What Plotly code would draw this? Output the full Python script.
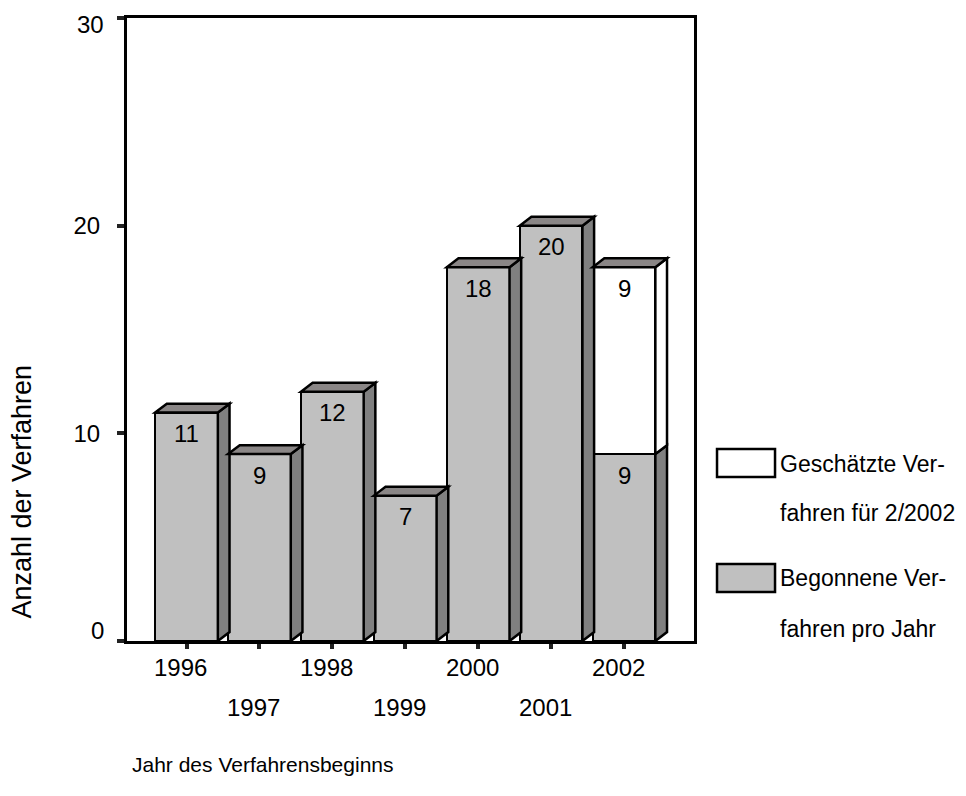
import plotly.graph_objects as go

years = ["1996", "1997", "1998", "1999", "2000", "2001", "2002"]
begonnen = [11, 9, 12, 7, 18, 20, 9]
geschaetzt = [0, 0, 0, 0, 0, 0, 9]
y_ticks = [0, 10, 20, 30]
legend_labels = [["Geschätzte Ver-", "fahren für 2/2002"], ["Begonnene Ver-", "fahren pro Jahr"]]

FONT = "Arial, Liberation Sans, Helvetica, sans-serif"
FRONT = "#c0c0c0"
SIDE = "#808080"
TOP = "#8a8686"
WHITE = "#ffffff"
BW = 0.86      # bar width (category units)
DX = 0.16      # 3D depth in x (category units)
DY = 0.43      # 3D depth in y (value units)
LW = 2.5
FS = 24

xs = list(range(len(years)))

fig = go.Figure()
fig.add_trace(go.Bar(x=xs, y=begonnen, width=BW, marker=dict(color=FRONT, line=dict(color="black", width=LW)),
                     name="Begonnene Verfahren pro Jahr", showlegend=False, hoverinfo="skip"))
fig.add_trace(go.Bar(x=xs, y=geschaetzt, width=BW, marker=dict(color=WHITE, line=dict(color="black", width=LW)),
                     name="Geschätzte Verfahren für 2/2002", showlegend=False, hoverinfo="skip"))

shapes = []
annotations = []

def poly(pts, fill):
    path = "M " + " L ".join(f"{px},{py}" for px, py in pts) + " Z"
    return dict(type="path", xref="x", yref="y", path=path, fillcolor=fill,
                line=dict(color="black", width=LW), layer="above")

for i, (b, g) in enumerate(zip(begonnen, geschaetzt)):
    xl = i - BW / 2
    xr = i + BW / 2
    segs = [(0, b, SIDE)]
    if g > 0:
        segs.append((b, b + g, WHITE))
    for y0, y1, col in segs:
        shapes.append(poly([(xr, y0), (xr + DX, y0 + DY), (xr + DX, y1 + DY), (xr, y1)], col))
    top = b + g
    shapes.append(poly([(xl, top), (xl + DX, top + DY), (xr + DX, top + DY), (xr, top)], TOP))
    annotations.append(dict(x=i, y=b, xref="x", yref="y", text=str(b), showarrow=False,
                            yshift=-21, font=dict(family=FONT, size=FS, color="black")))
    if g > 0:
        annotations.append(dict(x=i, y=top, xref="x", yref="y", text=str(g), showarrow=False,
                                yshift=-21, font=dict(family=FONT, size=FS, color="black")))
    annotations.append(dict(x=i, y=0, xref="x", yref="paper", text=years[i], showarrow=False,
                            yanchor="middle", yshift=-26 if i % 2 == 0 else -66, xshift=-6,
                            font=dict(family=FONT, size=FS, color="black")))

# the end labels "0" and "30" sit slightly inward in the original
for v, sh in ((y_ticks[0], 11), (y_ticks[-1], -6)):
    annotations.append(dict(x=0, y=v, xref="paper", yref="y", text=str(v), showarrow=False,
                            xanchor="right", yanchor="middle", xshift=-21, yshift=sh,
                            font=dict(family=FONT, size=FS, color="black")))

annotations.append(dict(x=-0.185, y=0.24, xref="paper", yref="paper", text="Anzahl der Verfahren",
                        textangle=-90, showarrow=False, xanchor="center", yanchor="middle",
                        font=dict(family=FONT, size=27, color="black")))
annotations.append(dict(x=0.005, y=-0.199, xref="paper", yref="paper", text="Jahr des Verfahrensbeginns",
                        showarrow=False, xanchor="left", yanchor="middle",
                        font=dict(family=FONT, size=21, color="black")))

leg_boxes = [(0.3082, 0.2632, WHITE), (0.1236, 0.0787, FRONT)]
leg_text_y = [(0.2841, 0.2055), (0.1011, 0.0193)]
for (y1, y0, col), (ty1, ty2), labels in zip(leg_boxes, leg_text_y, legend_labels):
    shapes.append(dict(type="rect", xref="paper", yref="paper", x0=1.0406, x1=1.1429, y0=y0, y1=y1,
                       fillcolor=col, line=dict(color="black", width=LW)))
    for ty, lab in zip((ty1, ty2), labels):
        annotations.append(dict(x=1.148, y=ty, xref="paper", yref="paper", text=lab, showarrow=False,
                                xanchor="left", yanchor="middle",
                                font=dict(family=FONT, size=23, color="black")))

fig.update_layout(
    width=950, height=780,
    margin=dict(l=119, r=264, t=10, b=147, autoexpand=False),
    paper_bgcolor="white", plot_bgcolor="white",
    barmode="stack", bargap=0,
    shapes=shapes, annotations=annotations,
    showlegend=False,
    font=dict(family=FONT, size=FS, color="black"),
    xaxis=dict(range=[-0.816, 6.96], tickvals=xs, ticktext=[""] * len(xs), ticks="outside",
               ticklen=5, tickwidth=4, tickcolor="#222", showline=True, linecolor="black",
               linewidth=3, mirror=True, showgrid=False, zeroline=False, fixedrange=True,
               automargin=False),
    yaxis=dict(range=[0, 30], tickvals=y_ticks,
               ticktext=[""] + [str(v) for v in y_ticks[1:-1]] + [""],
               ticks="outside", ticklen=7, tickwidth=4,
               tickcolor="#222", showline=True, linecolor="black", linewidth=3, mirror=True,
               showgrid=False, zeroline=False, ticklabelstandoff=12, ticklabeloverflow="allow",
               automargin=False, tickfont=dict(family=FONT, size=FS, color="black")),
)

fig.write_html("out.html")
